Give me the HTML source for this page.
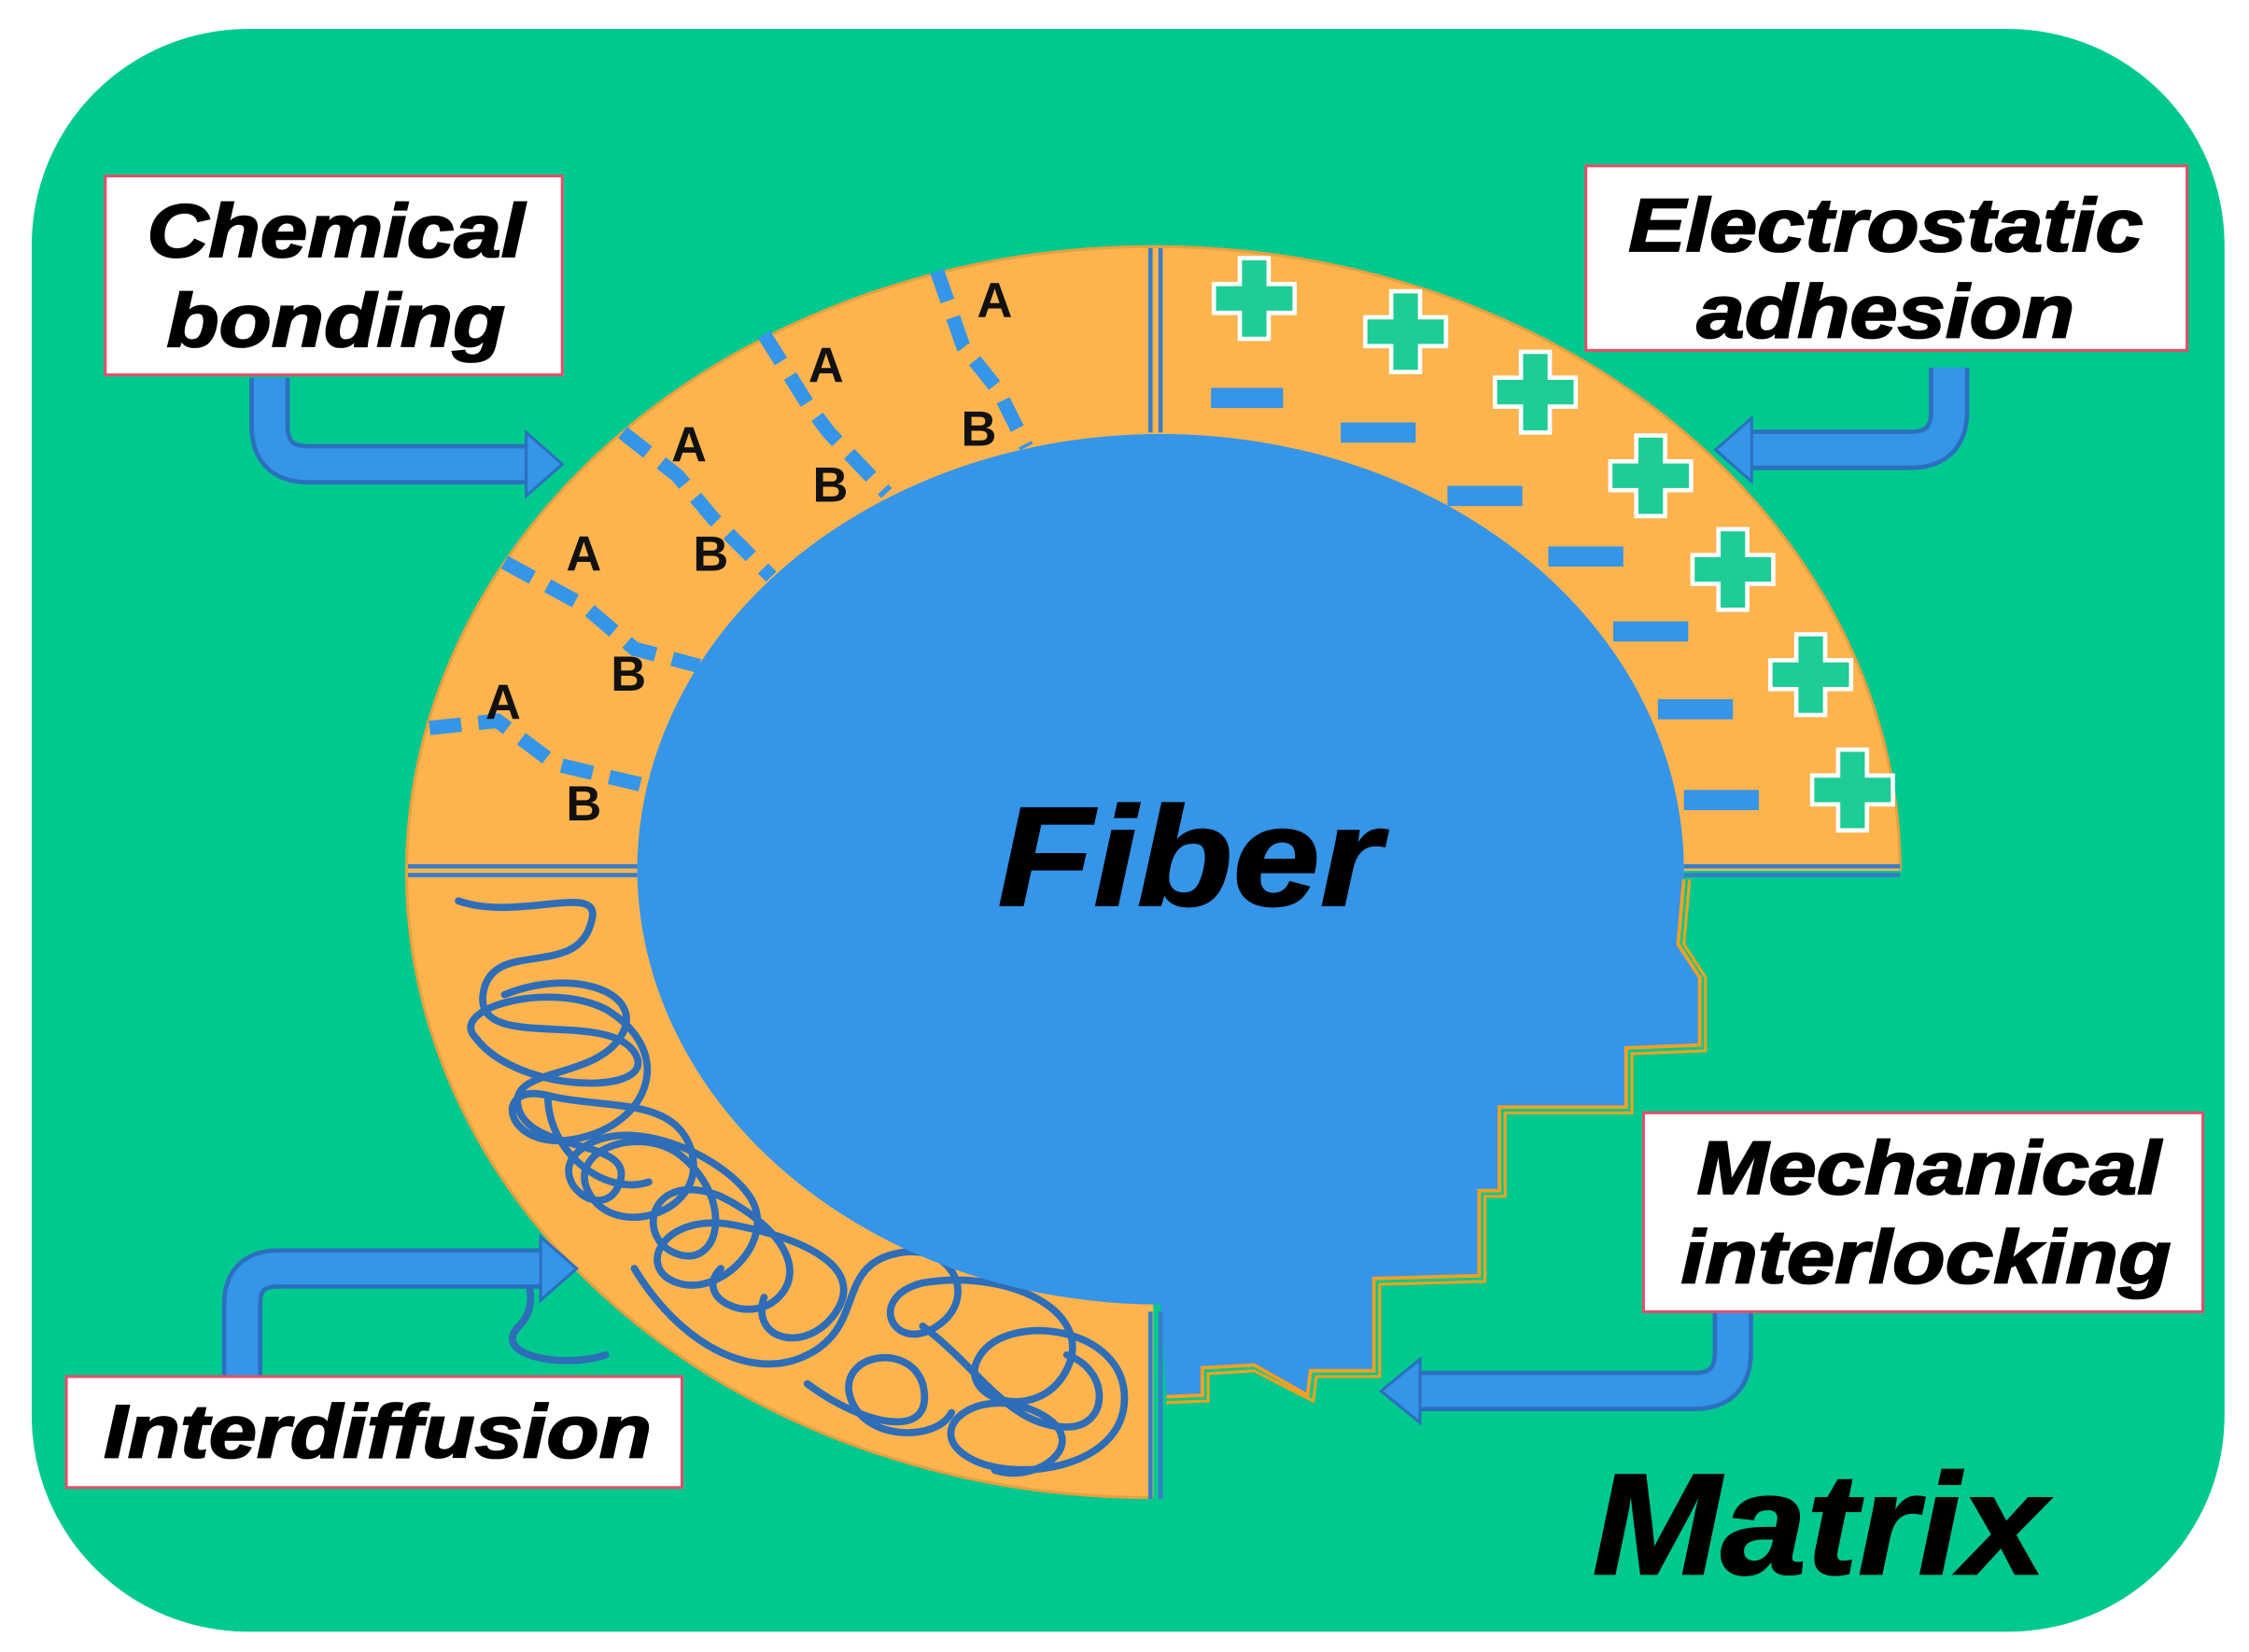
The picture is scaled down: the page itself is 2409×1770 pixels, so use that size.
<!DOCTYPE html>
<html><head><style>html,body{margin:0;padding:0;background:#fff}svg{display:block}</style></head>
<body>
<svg width="2409" height="1770" viewBox="0 0 1560 1146" xmlns="http://www.w3.org/2000/svg">
<defs>
<clipPath id="tl"><rect x="0" y="0" width="800" height="604"/></clipPath>
<clipPath id="tr"><rect x="800" y="0" width="800" height="604"/></clipPath>
<clipPath id="bl"><rect x="0" y="604" width="800" height="600"/></clipPath>
</defs>
<rect x="22" y="20" width="1521" height="1112" rx="150" fill="#00C98F"/>
<g fill="#FDB44E" stroke="#E8A040" stroke-width="2">
<ellipse cx="800" cy="605" rx="518" ry="434" clip-path="url(#tl)"/>
<ellipse cx="800" cy="605" rx="518" ry="434" clip-path="url(#tr)"/>
<ellipse cx="800" cy="605" rx="518" ry="434" clip-path="url(#bl)"/>
</g>
<g fill="none" stroke="#2E6DB8" stroke-width="5" stroke-linecap="round">
<path d="M318,625 C360,640 420,610 410,640 C400,680 340,650 335,690 C330,730 420,700 440,730 C460,760 360,760 330,720 C310,700 380,680 420,700 C470,730 450,780 400,790 C350,800 340,750 380,760 C420,770 470,760 480,800 C490,840 430,860 410,830 C390,800 440,780 470,800 C510,830 500,880 470,870 C440,860 450,810 500,830 C540,850 560,880 540,900 C520,920 480,900 500,880"/>
<path d="M350,690 C400,670 450,690 430,720 C410,750 350,740 360,770 C370,800 440,790 430,820 C420,850 380,820 400,800 C430,770 500,800 520,830 C540,860 500,900 470,890 C440,880 460,840 510,850 C560,860 600,880 580,910 C560,940 520,930 530,900"/>
<path d="M440,880 C470,930 520,960 560,940 C600,920 580,880 620,870 C660,860 680,900 650,920 C620,940 600,900 640,890 C700,880 760,910 740,950 C720,990 660,970 680,940 C700,910 780,920 780,970 C780,1020 700,1030 670,1010 C640,990 680,960 720,980 C760,1000 720,1030 690,1020"/>
<path d="M560,960 C600,990 650,1000 640,960 C630,930 580,940 590,970 C600,1000 650,1000 660,980"/>
<path d="M330,880 C360,860 380,900 360,920 C340,940 390,950 420,940"/>
<path d="M380,760 C380,800 420,830 450,820"/>
<path d="M640,920 C680,950 700,990 740,990 C770,990 770,950 740,940"/>
</g>
<path d="M442,604 A363,303 0 0 1 1168,604 L1164,655 L1179,678 L1179,725 L1128,727 L1128,768 L1040,768 L1040,826 L1026,826 L1026,885 L953,887 L953,951 L909,951 L907,968 L870,947 L834,949 L834,968 L809,969 L805,905 A363,303 0 0 1 442,604 Z" fill="#3595E8"/>
<polyline points="1168,610 1164,655 1179,678 1179,725 1128,727 1128,768 1040,768 1040,826 1026,826 1026,885 953,887 953,951 909,951 907,968 870,947 834,949 834,968 809,969" fill="none" stroke="#F5A020" stroke-width="2.5"/>
<polyline points="1172,610 1168,655 1183,678 1183,729 1132,731 1132,772 1044,772 1044,830 1030,830 1030,889 957,891 957,955 913,955 911,972 870,951 838,953 838,972 809,973" fill="none" stroke="#F5A020" stroke-width="2"/>
<g stroke="#3A7CC8" stroke-width="3">
<line x1="798" y1="172" x2="798" y2="300"/><line x1="805" y1="172" x2="805" y2="300"/>
<line x1="798" y1="910" x2="798" y2="1040"/><line x1="805" y1="910" x2="805" y2="1040"/>
<line x1="283" y1="601" x2="442" y2="601"/><line x1="283" y1="607" x2="442" y2="607"/>
<line x1="1168" y1="601" x2="1318" y2="601"/><line x1="1168" y1="607" x2="1318" y2="607"/>
</g>
<g stroke="#3595E8" stroke-width="10" stroke-dasharray="22,12" fill="none">
<path d="M650,188 L668,240 L692,270 L712,310"/>
<path d="M530,232 L560,280 L575,300 L615,342"/>
<path d="M432,300 L470,330 L495,360 L535,400"/>
<path d="M350,390 L405,420 L440,450 L485,462"/>
<path d="M298,505 L345,500 L385,530 L448,545"/>
</g>
<g font-family="Liberation Sans, sans-serif" font-weight="bold" font-size="34" fill="#111" text-anchor="middle">
<text x="690" y="220">A</text><text x="573" y="265">A</text><text x="478" y="320">A</text><text x="405" y="396">A</text><text x="349" y="499">A</text>
<text x="679" y="309">B</text><text x="576" y="348">B</text><text x="493" y="396">B</text><text x="436" y="479">B</text><text x="405" y="569">B</text>
</g>
<g fill="#1FCC95" stroke="#fff" stroke-width="3">
<path d="M-10,-28 h20 v18 h18 v20 h-18 v18 h-20 v-18 h-18 v-20 h18 z" transform="translate(870,207)"/>
<path d="M-10,-28 h20 v18 h18 v20 h-18 v18 h-20 v-18 h-18 v-20 h18 z" transform="translate(975,230)"/>
<path d="M-10,-28 h20 v18 h18 v20 h-18 v18 h-20 v-18 h-18 v-20 h18 z" transform="translate(1065,272)"/>
<path d="M-10,-28 h20 v18 h18 v20 h-18 v18 h-20 v-18 h-18 v-20 h18 z" transform="translate(1145,330)"/>
<path d="M-10,-28 h20 v18 h18 v20 h-18 v18 h-20 v-18 h-18 v-20 h18 z" transform="translate(1202,395)"/>
<path d="M-10,-28 h20 v18 h18 v20 h-18 v18 h-20 v-18 h-18 v-20 h18 z" transform="translate(1256,468)"/>
<path d="M-10,-28 h20 v18 h18 v20 h-18 v18 h-20 v-18 h-18 v-20 h18 z" transform="translate(1285,548)"/>
</g>
<g fill="#3595E8">
<rect x="840" y="269" width="50" height="14"/><rect x="930" y="293" width="52" height="14"/>
<rect x="1004" y="337" width="52" height="14"/><rect x="1074" y="379" width="52" height="14"/>
<rect x="1119" y="431" width="52" height="14"/><rect x="1150" y="485" width="52" height="14"/>
<rect x="1168" y="548" width="52" height="14"/>
</g>
<g fill="none" stroke-linejoin="round">
<g stroke="#2C6FBF" stroke-width="28">
<path d="M187,262 V295 Q187,322 214,322 H370"/>
<path d="M1352,255 V285 Q1352,312 1325,312 H1210"/>
<path d="M168,955 V905 Q168,880 193,880 H380"/>
<path d="M1202,910 V938 Q1202,965 1175,965 H980"/>
</g>
<g stroke="#3595E8" stroke-width="22">
<path d="M187,262 V295 Q187,322 214,322 H372"/>
<path d="M1352,255 V285 Q1352,312 1325,312 H1208"/>
<path d="M168,955 V905 Q168,880 193,880 H382"/>
<path d="M1202,910 V938 Q1202,965 1175,965 H978"/>
</g>
</g>
<g fill="#3595E8" stroke="#2C6FBF" stroke-width="2">
<polygon points="365,300 390,322 365,344"/>
<polygon points="1215,290 1190,312 1215,334"/>
<polygon points="375,858 400,880 375,902"/>
<polygon points="985,943 958,965 985,987"/>
</g>
<g fill="#fff" stroke="#E0506A" stroke-width="2">
<rect x="73" y="122" width="317" height="138"/>
<rect x="1100" y="115" width="417" height="128"/>
<rect x="1140" y="772" width="388" height="138"/>
<rect x="46" y="955" width="427" height="77"/>
</g>
<g font-family="Liberation Sans, sans-serif" font-weight="bold" font-style="italic" font-size="52" fill="#000" text-anchor="middle" stroke="#000" stroke-width="1.2">
<text x="233" y="178" textLength="262" lengthAdjust="spacingAndGlyphs">Chemical</text><text x="233" y="240" textLength="235" lengthAdjust="spacingAndGlyphs">bonding</text>
<text x="1308" y="174" textLength="357" lengthAdjust="spacingAndGlyphs">Electrostatic</text><text x="1308" y="234" textLength="262" lengthAdjust="spacingAndGlyphs">adhesion</text>
<text x="1338" y="828" textLength="322" lengthAdjust="spacingAndGlyphs">Mechanical</text><text x="1336" y="890" textLength="340" lengthAdjust="spacingAndGlyphs">interlocking</text>
<text x="262" y="1011" textLength="380" lengthAdjust="spacingAndGlyphs">Interdiffusion</text>
<text x="825" y="628" font-size="98" textLength="266" lengthAdjust="spacingAndGlyphs">Fiber</text>
<text x="1262" y="1092" font-size="100" textLength="315" lengthAdjust="spacingAndGlyphs">Matrix</text>
</g>
</svg>
</body></html>
